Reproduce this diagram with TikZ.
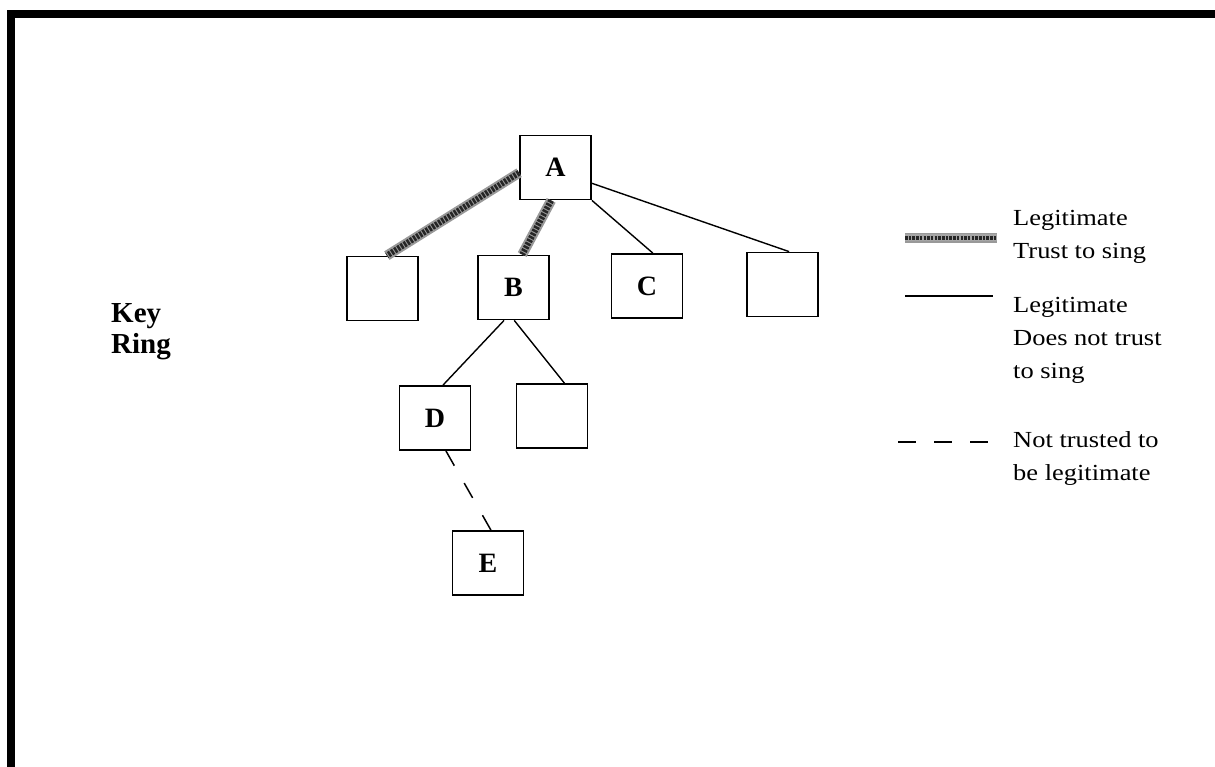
\documentclass[tikz,border=0pt]{standalone}
\usepackage{fontspec}
\setmainfont{Liberation Serif}
\newfontfamily\legendfont[FakeStretch=1.15]{Liberation Serif}
\usetikzlibrary{calc}
\begin{document}
\begin{tikzpicture}[x=1pt,y=-1pt,
  box/.style={draw, line width=1.8pt, minimum width=71pt, minimum height=64pt, inner sep=0pt, font=\fontsize{28}{30}\selectfont\bfseries},
  thinline/.style={line width=1.4pt},
  fuzzy/.style={line width=6pt, draw=black!85, dash pattern=on 2.5pt off 1.2pt, preaction={draw=black!40, line width=10pt, solid}},
  dashline/.style={line width=1.5pt, dash pattern=on 17pt off 20pt},
  legdash/.style={line width=1.5pt, dash pattern=on 18pt off 18pt},
  legtext/.style={anchor=base west, align=left, inner sep=0pt, font=\legendfont\fontsize{23}{33}\selectfont}]
\useasboundingbox (0,0) rectangle (1215,767);
% frame
\fill (7,10) rectangle (1215,18);
\fill (7,10) rectangle (15,767);
% nodes
\node[box] (A) at (555.5,167.5) {A};
\node[box] (n1) at (382.5,288.5) {};
\node[box] (B) at (513.5,287.5) {B};
\node[box] (C) at (647,286) {C};
\node[box] (n4) at (782.5,284.5) {};
\node[box] (D) at (435,418) {D};
\node[box] (n5) at (552,416) {};
\node[box] (E) at (488,563) {E};
% edges
\draw[fuzzy] ($(A.north west)!0.58!(A.south west)$) -- ($(n1.north west)!0.56!(n1.north east)$);
\draw[fuzzy] ($(A.south west)!0.44!(A.south east)$) -- ($(B.north west)!0.62!(B.north east)$);
\draw[thinline] (A.south east) -- ($(C.north west)!0.58!(C.north east)$);
\draw[thinline] ($(A.north east)!0.74!(A.south east)$) -- ($(n4.north west)!0.59!(n4.north east)$);
\draw[thinline] ($(B.south west)!0.37!(B.south east)$) -- ($(D.north west)!0.61!(D.north east)$);
\draw[thinline] ($(B.south west)!0.51!(B.south east)$) -- ($(n5.north west)!0.67!(n5.north east)$);
\draw[dashline] ($(D.south west)!0.65!(D.south east)$) -- ($(E.north west)!0.54!(E.north east)$);
% key ring
\node[anchor=base west, align=left, inner sep=0pt, font=\fontsize{29}{31}\selectfont\bfseries] (key) at (111,353) {Key\\Ring};
% legend
\coordinate (l1a) at (905,238); \coordinate (l1b) at (997,238);
\coordinate (l2a) at (905,296); \coordinate (l2b) at (993,296);
\coordinate (l3a) at (898,442); \coordinate (l3b) at (988,442);
\draw[fuzzy, line width=4pt, preaction={draw=black!35, line width=7pt, solid}] (l1a) -- (l1b);
\draw[thinline] (l2a) -- (l2b);
\draw[legdash] (l3a) -- (l3b);
\node[legtext] (t1) at (1013,259) {Legitimate\\Trust to sing};
\node[legtext] (t2) at (1013,378) {Legitimate\\Does not trust\\to sing};
\node[legtext] (t3) at (1013,480) {Not trusted to\\be legitimate};
\end{tikzpicture}
\end{document}
